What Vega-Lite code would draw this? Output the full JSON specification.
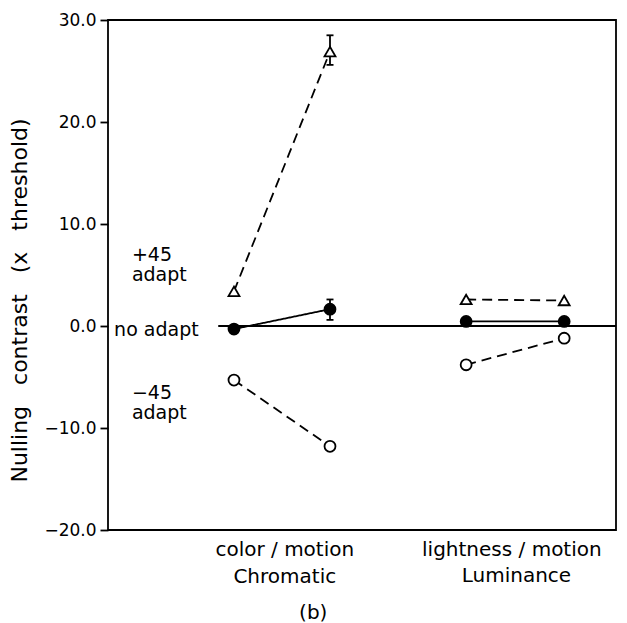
{
  "$schema": "https://vega.github.io/schema/vega-lite/v6.json",
  "width": 508,
  "height": 510,
  "autosize": {"type": "none"},
  "padding": {"left": 108, "top": 20, "right": 11, "bottom": 93},
  "background": "white",
  "config": {"view": {"stroke": "black", "strokeWidth": 1.8}, "font": "DejaVu Sans"},
  "datasets": {
    "points": [
      {"adaptation": "+45 adapt", "condition": "Chromatic", "pos": 2.48, "value": 3.4},
      {"adaptation": "+45 adapt", "condition": "Chromatic", "pos": 4.37, "value": 26.9, "lo": 25.6, "hi": 28.5},
      {"adaptation": "no adapt", "condition": "Chromatic", "pos": 2.48, "value": -0.3},
      {"adaptation": "no adapt", "condition": "Chromatic", "pos": 4.37, "value": 1.65, "lo": 0.6, "hi": 2.6},
      {"adaptation": "-45 adapt", "condition": "Chromatic", "pos": 2.48, "value": -5.3},
      {"adaptation": "-45 adapt", "condition": "Chromatic", "pos": 4.37, "value": -11.8},
      {"adaptation": "+45 adapt", "condition": "Luminance", "pos": 7.05, "value": 2.6},
      {"adaptation": "+45 adapt", "condition": "Luminance", "pos": 8.98, "value": 2.5},
      {"adaptation": "no adapt", "condition": "Luminance", "pos": 7.05, "value": 0.45},
      {"adaptation": "no adapt", "condition": "Luminance", "pos": 8.98, "value": 0.45},
      {"adaptation": "-45 adapt", "condition": "Luminance", "pos": 7.05, "value": -3.8},
      {"adaptation": "-45 adapt", "condition": "Luminance", "pos": 8.98, "value": -1.2}
    ],
    "notes": [
      {"label": "+45", "pos": 0.47, "value": 6.96},
      {"label": "adapt", "pos": 0.47, "value": 5.0},
      {"label": "no adapt", "pos": 0.12, "value": -0.4},
      {"label": "−45", "pos": 0.47, "value": -6.57},
      {"label": "adapt", "pos": 0.47, "value": -8.53}
    ],
    "xlabels": [
      {"label": "color / motion", "pos": 3.48, "value": -22.0},
      {"label": "Chromatic", "pos": 3.48, "value": -24.6},
      {"label": "lightness / motion", "pos": 7.95, "value": -22.0},
      {"label": "Luminance", "pos": 8.04, "value": -24.5},
      {"label": "(b)", "pos": 4.04, "value": -28.1}
    ],
    "zero": [{"pos": 2.17, "pos2": 10, "value": 0}]
  },
  "layer": [
    {
      "data": {"name": "zero"},
      "mark": {"type": "rule", "color": "black", "strokeWidth": 1.8},
      "encoding": {
        "x": {"field": "pos", "type": "quantitative", "scale": {"domain": [0, 10], "nice": false, "zero": false}, "axis": null},
        "x2": {"field": "pos2"},
        "y": {
          "field": "value", "type": "quantitative",
          "scale": {"domain": [-20, 30], "nice": false, "zero": false},
          "axis": {
            "values": [-20, -10, 0, 10, 20, 30],
            "format": ".1f",
            "grid": false,
            "domain": false,
            "tickSize": 8,
            "tickWidth": 1.8,
            "tickColor": "black",
            "labelFontSize": 17,
            "labelColor": "black",
            "labelPadding": 4,
            "title": "Nulling\u00a0\u00a0\u00a0contrast\u00a0\u00a0\u00a0(x\u00a0\u00a0\u00a0threshold)",
            "titleFontSize": 22,
            "titleFontWeight": "normal",
            "titleColor": "black",
            "titlePadding": 12,
            "titleY": 280
          }
        }
      }
    },
    {
      "data": {"name": "points"},
      "mark": {"type": "line", "color": "black", "strokeWidth": 1.8},
      "encoding": {
        "x": {"field": "pos", "type": "quantitative"},
        "y": {"field": "value", "type": "quantitative"},
        "detail": [{"field": "adaptation"}, {"field": "condition"}],
        "order": {"field": "pos"},
        "strokeDash": {
          "field": "adaptation", "type": "nominal",
          "scale": {"domain": ["+45 adapt", "no adapt", "-45 adapt"], "range": [[10, 6], [1, 0], [10, 6]]},
          "legend": null
        }
      }
    },
    {
      "data": {"name": "points"},
      "transform": [{"filter": "isValid(datum.lo)"}],
      "mark": {"type": "rule", "color": "black", "strokeWidth": 1.8},
      "encoding": {
        "x": {"field": "pos", "type": "quantitative"},
        "y": {"field": "lo", "type": "quantitative"},
        "y2": {"field": "hi"}
      }
    },
    {
      "data": {"name": "points"},
      "transform": [{"filter": "isValid(datum.lo)"}],
      "mark": {"type": "tick", "orient": "horizontal", "color": "black", "size": 7, "thickness": 1.8, "opacity": 1},
      "encoding": {
        "x": {"field": "pos", "type": "quantitative"},
        "y": {"field": "lo", "type": "quantitative"}
      }
    },
    {
      "data": {"name": "points"},
      "transform": [{"filter": "isValid(datum.hi)"}],
      "mark": {"type": "tick", "orient": "horizontal", "color": "black", "size": 7, "thickness": 1.8, "opacity": 1},
      "encoding": {
        "x": {"field": "pos", "type": "quantitative"},
        "y": {"field": "hi", "type": "quantitative"}
      }
    },
    {
      "data": {"name": "points"},
      "mark": {"type": "point", "filled": true, "stroke": "black", "strokeWidth": 1.8, "opacity": 1, "size": 120},
      "encoding": {
        "x": {"field": "pos", "type": "quantitative"},
        "y": {"field": "value", "type": "quantitative"},
        "shape": {
          "field": "adaptation", "type": "nominal",
          "scale": {"domain": ["+45 adapt", "no adapt", "-45 adapt"], "range": ["triangle-up", "circle", "circle"]},
          "legend": null
        },
        "fill": {
          "field": "adaptation", "type": "nominal",
          "scale": {"domain": ["+45 adapt", "no adapt", "-45 adapt"], "range": ["white", "black", "white"]},
          "legend": null
        }
      }
    },
    {
      "data": {"name": "notes"},
      "mark": {"type": "text", "align": "left", "baseline": "middle", "fontSize": 19, "color": "black"},
      "encoding": {
        "x": {"field": "pos", "type": "quantitative"},
        "y": {"field": "value", "type": "quantitative"},
        "text": {"field": "label"}
      }
    },
    {
      "data": {"name": "xlabels"},
      "mark": {"type": "text", "align": "center", "baseline": "middle", "fontSize": 20, "color": "black"},
      "encoding": {
        "x": {"field": "pos", "type": "quantitative"},
        "y": {"field": "value", "type": "quantitative"},
        "text": {"field": "label"}
      }
    }
  ]
}
